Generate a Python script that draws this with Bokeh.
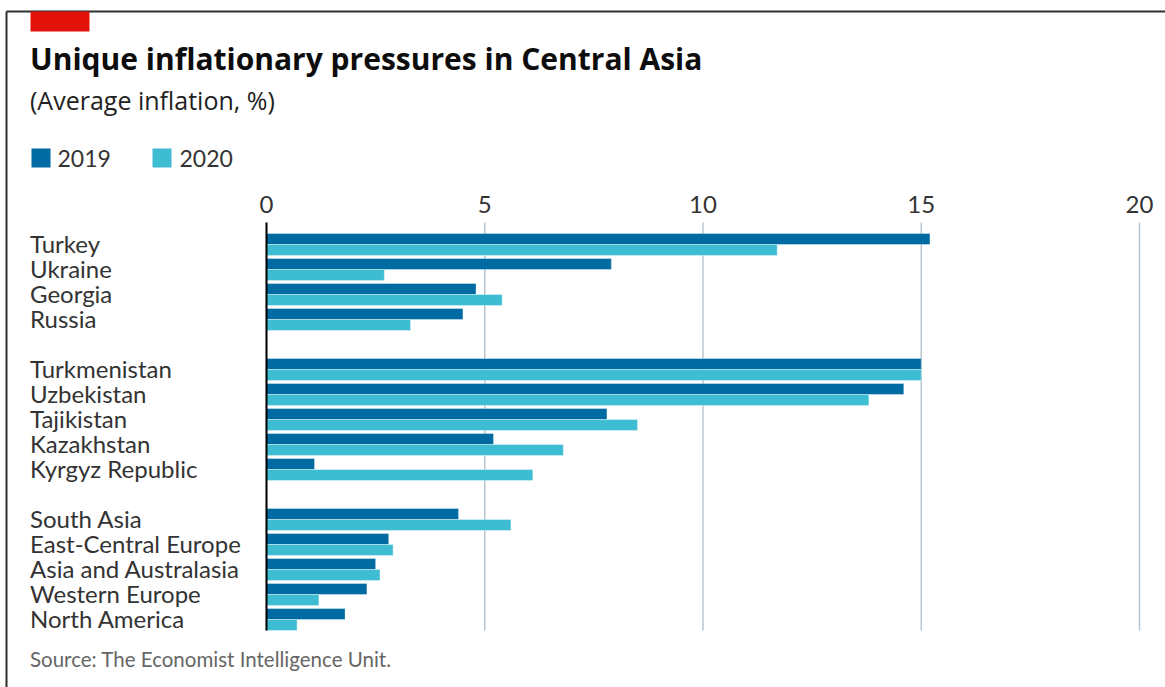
from bokeh.plotting import figure
from bokeh.models import Range1d, ColumnDataSource
from bokeh.core.properties import value
from bokeh.embed import file_html
from bokeh.resources import INLINE

# ---------------- data ----------------
countries = ["Turkey", "Ukraine", "Georgia", "Russia",
             "Turkmenistan", "Uzbekistan", "Tajikistan", "Kazakhstan", "Kyrgyz Republic",
             "South Asia", "East-Central Europe", "Asia and Australasia", "Western Europe", "North America"]
# row index of each country (blank rows separate the three groups)
rows = [0, 1, 2, 3, 5, 6, 7, 8, 9, 11, 12, 13, 14, 15]
infl_2019 = [15.2, 7.9, 4.8, 4.5, 15.0, 14.6, 7.8, 5.2, 1.1, 4.4, 2.8, 2.5, 2.3, 1.8]
infl_2020 = [11.7, 2.7, 5.4, 3.3, 15.0, 13.8, 8.5, 6.8, 6.1, 5.6, 2.9, 2.6, 1.2, 0.7]
ticks = [0, 5, 10, 15, 20]
tick_labels = ["0", "5", "10", "15", "20"]
series = ["2019", "2020"]

title = "Unique inflationary pressures in Central Asia"
subtitle = "(Average inflation, %)"
source = "Source: The Economist Intelligence Unit."

# ---------------- layout ----------------
W, H = 1165, 687
X0_PX, X20_PX = 266, 1139          # canvas x of 0 and 20
PX_PER = (X20_PX - X0_PX) / 20.0
ROW0_PX, ROW_H = 244, 25            # canvas y of first row centre, row pitch
BAR_H = 0.44                        # in row units
TX = 29.5                           # left edge of texts


def base(y, size):
    # baseline correction for the svg text renderer
    return y - 0.4 * size


C2019 = "#006ba2"
C2020 = "#3ebcd2"
FONT = value("Lato")
TFONT = value("Open Sans")

p = figure(width=W, height=H, output_backend="svg", toolbar_location=None,
           x_range=Range1d(-X0_PX / PX_PER, (W - X0_PX) / PX_PER),
           y_range=Range1d((H - ROW0_PX) / ROW_H, -ROW0_PX / ROW_H),
           x_axis_location=None, y_axis_location=None, min_border=0)
p.grid.visible = False
p.outline_line_color = None
p.background_fill_color = "white"
p.border_fill_color = "white"
p.extra_x_ranges = {"px": Range1d(0, W)}
p.extra_y_ranges = {"px": Range1d(H, 0)}

# frame lines
p.segment(x0=[6, 6], y0=[11, 11], x1=[W, 6], y1=[11, H], x_range_name="px", y_range_name="px",
          line_color="#2b302b", line_width=2)
# red tag
p.quad(left=[30], right=[89], top=[11], bottom=[31], x_range_name="px", y_range_name="px",
       fill_color="#e3120b", line_color=None)

# title / subtitle
p.text(x=[TX], y=[base(70, 30)], text=[title], x_range_name="px", y_range_name="px",
       text_font=TFONT, text_font_style="bold", text_font_size="30px", text_color="#0d0d0d",
       text_baseline="alphabetic", text_align="left")
p.text(x=[TX], y=[base(109, 25)], text=[subtitle], x_range_name="px", y_range_name="px",
       text_font=TFONT, text_font_size="25px", text_color="#222222",
       text_baseline="alphabetic", text_align="left")

# legend
p.rect(x=[40.5, 161.5], y=[157.5, 157.5], width=19, height=19, x_range_name="px", y_range_name="px",
       fill_color=[C2019, C2020], line_color=None)
p.text(x=[57, 179], y=[base(166.7, 23)] * 2, text=series, x_range_name="px", y_range_name="px",
       text_font=FONT, text_font_size="23px", text_color="#333333",
       text_baseline="alphabetic", text_align="left")

# gridlines
p.segment(x0=ticks, x1=ticks, y0=[222] * len(ticks), y1=[630] * len(ticks), y_range_name="px",
          line_color="#b7c6d0", line_width=1.5)
p.text(x=ticks, y=[base(214, 24)] * len(ticks), text=tick_labels, y_range_name="px",
       text_font=FONT, text_font_size="24px", text_color="#333333",
       text_baseline="alphabetic", text_align="center")

# bars
src = ColumnDataSource(dict(
    y19=[r - BAR_H / 2 for r in rows], y20=[r + BAR_H / 2 for r in rows],
    v19=infl_2019, v20=infl_2020, lab=countries, row=rows))
p.hbar(y="y19", left=0, right="v19", height=BAR_H, source=src, fill_color=C2019,
       line_color="white", line_width=0.6, line_alpha=0.6)
p.hbar(y="y20", left=0, right="v20", height=BAR_H, source=src, fill_color=C2020,
       line_color="white", line_width=0.6, line_alpha=0.6)

# zero line
p.segment(x0=[0], x1=[0], y0=[222], y1=[630], y_range_name="px", line_color="black", line_width=2)

# country labels
p.text(x=[TX] * len(countries), y=[base(ROW0_PX + r * ROW_H + 9, 24) for r in rows], text=countries,
       x_range_name="px", y_range_name="px",
       text_font=FONT, text_font_size="24px", text_color="#333333",
       text_baseline="alphabetic", text_align="left")

# source
p.text(x=[TX], y=[base(667, 20.5)], text=[source], x_range_name="px", y_range_name="px",
       text_font=FONT, text_font_size="20.5px", text_color="#666666",
       text_baseline="alphabetic", text_align="left")

open("out.html", "w").write(file_html(p, INLINE))
